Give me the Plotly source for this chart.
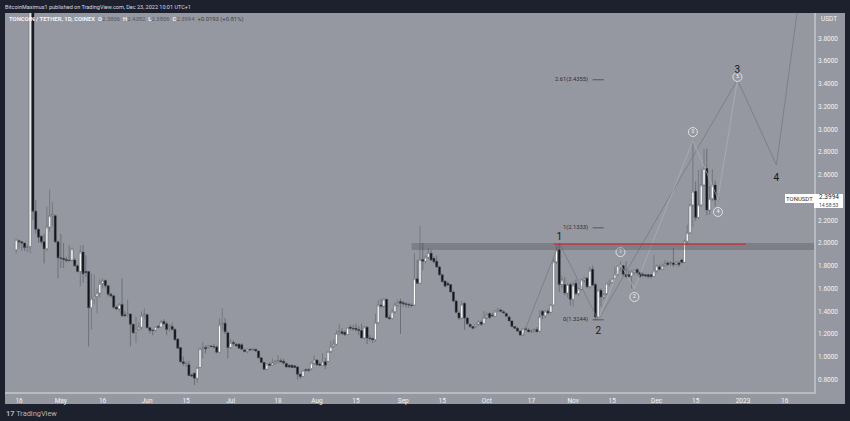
"""TONUSDT daily chart with Elliott wave count, TradingView look."""
import pandas as pd
import plotly.graph_objects as go

opens = [
    1.94, 2.02, 2.01, 2.00, 1.95, 1.97, 4.40, 2.28, 2.12, 2.06,
    2.01, 1.95, 2.14, 2.24, 2.24, 2.01, 1.87, 1.865, 1.855, 1.85,
    1.85, 1.85, 1.80, 1.75, 1.92, 1.75, 1.75, 1.43, 1.51, 1.53,
    1.56, 1.645, 1.67, 1.625, 1.55, 1.535, 1.435, 1.42, 1.46, 1.37,
    1.365, 1.375, 1.285, 1.22, 1.24, 1.26, 1.36, 1.37, 1.255, 1.235,
    1.235, 1.265, 1.26, 1.31, 1.29, 1.26, 1.265, 1.24, 1.155, 1.08,
    0.955, 0.93, 0.93, 0.84, 0.855, 0.81, 0.905, 1.07, 1.08, 1.08,
    1.095, 1.09, 1.085, 1.04, 1.285, 1.295, 1.21, 1.08, 1.125, 1.11,
    1.11, 1.105, 1.06, 1.045, 1.065, 1.06, 1.065, 1.05, 0.99, 0.95,
    0.89, 0.935, 0.925, 0.945, 0.955, 0.965, 0.96, 0.94, 0.925, 0.925,
    0.92, 0.91, 0.845, 0.825, 0.885, 0.885, 0.895, 0.945, 0.97, 0.935,
    0.925, 0.955, 0.96, 1.045, 1.09, 1.11, 1.21, 1.22, 1.215, 1.195,
    1.26, 1.25, 1.25, 1.24, 1.23, 1.165, 1.26, 1.165, 1.16, 1.15,
    1.30, 1.455, 1.445, 1.505, 1.345, 1.335, 1.395, 1.455, 1.485, 1.475,
    1.465, 1.46, 1.455, 1.455, 1.685, 1.645, 1.855, 1.84, 1.875, 1.91,
    1.865, 1.84, 1.79, 1.72, 1.665, 1.645, 1.635, 1.57, 1.49, 1.385,
    1.34, 1.47, 1.34, 1.285, 1.265, 1.27, 1.285, 1.305, 1.29, 1.345,
    1.38, 1.365, 1.355, 1.40, 1.41, 1.395, 1.38, 1.35, 1.315, 1.265,
    1.25, 1.225, 1.19, 1.245, 1.235, 1.22, 1.225, 1.24, 1.225, 1.40,
    1.36, 1.40, 1.39, 1.455, 1.835, 1.94, 1.635, 1.635, 1.56, 1.635,
    1.505, 1.645, 1.555, 1.595, 1.675, 1.69, 1.615, 1.77, 1.635, 1.35,
    1.585, 1.525, 1.555, 1.645, 1.655, 1.69, 1.725, 1.79, 1.80, 1.725,
    1.72, 1.71, 1.74, 1.765, 1.74, 1.725, 1.72, 1.72, 1.72, 1.705,
    1.755, 1.79, 1.77, 1.80, 1.825, 1.82, 1.825, 1.815, 1.825, 1.85,
    1.83, 2.015, 2.09, 2.335, 2.455, 2.225, 2.335, 2.51, 2.655, 2.29,
    2.39, 2.51, 2.3806,
]
highs = [
    2.04, 2.03, 2.02, 2.00, 1.98, 4.60, 5.00, 2.38, 2.13, 2.07,
    2.08, 2.32, 2.47, 2.36, 2.25, 2.02, 2.08, 2.00, 1.88, 1.98,
    1.96, 1.87, 1.81, 1.98, 1.98, 1.89, 1.75, 1.73, 1.72, 1.60,
    1.68, 1.69, 1.68, 1.63, 1.56, 1.54, 1.45, 1.47, 1.69, 1.40,
    1.50, 1.38, 1.29, 1.35, 1.30, 1.40, 1.425, 1.38, 1.26, 1.24,
    1.27, 1.28, 1.32, 1.33, 1.31, 1.28, 1.30, 1.25, 1.16, 1.085,
    1.00, 0.96, 0.965, 0.85, 0.86, 0.91, 1.08, 1.13, 1.10, 1.10,
    1.10, 1.11, 1.10, 1.34, 1.425, 1.34, 1.22, 1.155, 1.145, 1.12,
    1.12, 1.12, 1.07, 1.07, 1.07, 1.075, 1.07, 1.055, 0.995, 0.955,
    0.94, 0.95, 0.985, 0.97, 1.015, 0.985, 0.98, 0.95, 0.93, 0.93,
    0.925, 0.92, 0.85, 0.885, 0.90, 0.90, 0.95, 1.01, 0.98, 0.955,
    1.03, 0.99, 1.05, 1.14, 1.15, 1.23, 1.29, 1.25, 1.23, 1.26,
    1.28, 1.28, 1.29, 1.27, 1.29, 1.27, 1.27, 1.19, 1.17, 1.38,
    1.50, 1.51, 1.515, 1.51, 1.37, 1.42, 1.48, 1.50, 1.51, 1.49,
    1.48, 1.475, 1.47, 1.91, 1.85, 2.15, 2.00, 1.89, 1.955, 1.94,
    1.88, 1.89, 1.80, 1.73, 1.67, 1.66, 1.64, 1.58, 1.50, 1.40,
    1.49, 1.48, 1.35, 1.29, 1.27, 1.29, 1.32, 1.32, 1.40, 1.39,
    1.39, 1.385, 1.41, 1.43, 1.425, 1.41, 1.39, 1.36, 1.32, 1.27,
    1.26, 1.23, 1.25, 1.26, 1.25, 1.24, 1.25, 1.26, 1.41, 1.41,
    1.41, 1.42, 1.46, 1.86, 1.98, 1.985, 1.71, 1.70, 1.65, 1.65,
    1.66, 1.68, 1.61, 1.68, 1.70, 1.70, 1.79, 1.80, 1.65, 1.59,
    1.60, 1.56, 1.65, 1.67, 1.69, 1.79, 1.80, 1.84, 1.81, 1.84,
    1.76, 1.76, 1.77, 1.78, 1.75, 1.74, 1.73, 1.73, 1.73, 1.895,
    1.81, 1.81, 1.82, 1.85, 1.84, 1.84, 1.955, 1.84, 1.84, 1.86,
    2.03, 2.16, 2.34, 2.90, 2.54, 2.64, 2.65, 2.825, 2.83, 2.50,
    2.65, 2.55, 2.4382,
]
lows = [
    1.91, 1.95, 1.93, 1.93, 1.92, 1.91, 2.20, 2.08, 2.00, 1.99,
    1.82, 1.93, 2.10, 2.15, 2.00, 1.69, 1.78, 1.78, 1.83, 1.84,
    1.84, 1.79, 1.74, 1.62, 1.65, 1.70, 1.09, 1.24, 1.46, 1.38,
    1.52, 1.60, 1.60, 1.53, 1.52, 1.42, 1.41, 1.40, 1.35, 1.35,
    1.35, 1.09, 1.20, 1.12, 1.23, 1.24, 1.33, 1.25, 1.205, 1.19,
    1.22, 1.25, 1.255, 1.28, 1.19, 1.22, 1.23, 1.14, 1.07, 0.95,
    0.92, 0.91, 0.83, 0.82, 0.75, 0.77, 0.90, 0.985, 1.03, 1.07,
    1.08, 1.07, 1.03, 1.03, 1.23, 1.20, 0.985, 1.07, 1.10, 1.09,
    1.07, 1.06, 1.04, 1.03, 1.05, 1.05, 1.045, 0.985, 0.945, 0.88,
    0.88, 0.92, 0.92, 0.93, 0.94, 0.95, 0.93, 0.90, 0.90, 0.90,
    0.90, 0.80, 0.805, 0.82, 0.87, 0.865, 0.88, 0.93, 0.92, 0.92,
    0.92, 0.89, 0.95, 1.03, 1.08, 1.10, 1.19, 1.19, 1.18, 1.19,
    1.235, 1.23, 1.22, 1.19, 1.16, 1.15, 1.11, 1.14, 1.12, 1.13,
    1.29, 1.43, 1.43, 1.34, 1.32, 1.33, 1.38, 1.44, 1.20, 1.44,
    1.43, 1.43, 1.44, 1.45, 1.64, 1.64, 1.76, 1.82, 1.86, 1.84,
    1.82, 1.78, 1.71, 1.65, 1.61, 1.62, 1.565, 1.48, 1.38, 1.32,
    1.33, 1.235, 1.28, 1.255, 1.24, 1.25, 1.27, 1.27, 1.285, 1.33,
    1.33, 1.35, 1.35, 1.39, 1.39, 1.38, 1.35, 1.31, 1.26, 1.245,
    1.22, 1.185, 1.185, 1.23, 1.215, 1.21, 1.215, 1.215, 1.22, 1.33,
    1.34, 1.37, 1.38, 1.45, 1.82, 1.57, 1.60, 1.54, 1.52, 1.45,
    1.44, 1.54, 1.53, 1.58, 1.65, 1.60, 1.60, 1.62, 1.32, 1.32,
    1.44, 1.50, 1.54, 1.62, 1.64, 1.68, 1.71, 1.75, 1.71, 1.69,
    1.69, 1.60, 1.72, 1.72, 1.69, 1.70, 1.70, 1.69, 1.69, 1.70,
    1.74, 1.76, 1.76, 1.79, 1.80, 1.80, 1.79, 1.80, 1.79, 1.82,
    1.82, 1.98, 2.08, 2.14, 2.195, 2.21, 2.32, 2.49, 2.245, 2.245,
    2.37, 2.32, 2.3806,
]
closes = [
    2.03, 2.01, 2.00, 1.96, 1.96, 4.40, 2.28, 2.12, 2.05, 2.01,
    1.95, 2.14, 2.24, 2.25, 2.01, 1.87, 1.865, 1.855, 1.845, 1.845,
    1.95, 1.80, 1.75, 1.92, 1.73, 1.74, 1.43, 1.51, 1.53, 1.56,
    1.645, 1.67, 1.625, 1.55, 1.535, 1.435, 1.42, 1.46, 1.36, 1.36,
    1.375, 1.285, 1.21, 1.24, 1.26, 1.36, 1.37, 1.255, 1.23, 1.23,
    1.265, 1.26, 1.305, 1.29, 1.24, 1.27, 1.24, 1.15, 1.075, 0.955,
    0.94, 0.94, 0.835, 0.83, 0.81, 0.905, 1.07, 1.08, 1.07, 1.095,
    1.09, 1.085, 1.04, 1.28, 1.295, 1.22, 1.08, 1.125, 1.115, 1.095,
    1.075, 1.065, 1.045, 1.065, 1.06, 1.065, 1.05, 0.99, 0.95, 0.89,
    0.935, 0.925, 0.945, 0.955, 0.965, 0.955, 0.945, 0.91, 0.91, 0.905,
    0.905, 0.845, 0.825, 0.88, 0.88, 0.88, 0.945, 0.97, 0.93, 0.925,
    0.955, 0.925, 1.045, 1.09, 1.11, 1.205, 1.22, 1.205, 1.195, 1.255,
    1.25, 1.245, 1.24, 1.23, 1.165, 1.26, 1.165, 1.16, 1.15, 1.30,
    1.455, 1.445, 1.505, 1.345, 1.335, 1.395, 1.455, 1.47, 1.47, 1.465,
    1.46, 1.455, 1.45, 1.685, 1.645, 1.855, 1.84, 1.875, 1.915, 1.85,
    1.835, 1.79, 1.72, 1.66, 1.62, 1.63, 1.57, 1.49, 1.39, 1.34,
    1.46, 1.34, 1.29, 1.265, 1.25, 1.285, 1.305, 1.285, 1.345, 1.365,
    1.345, 1.36, 1.40, 1.41, 1.40, 1.385, 1.355, 1.315, 1.265, 1.25,
    1.225, 1.19, 1.245, 1.24, 1.22, 1.225, 1.235, 1.22, 1.35, 1.365,
    1.40, 1.385, 1.455, 1.835, 1.94, 1.635, 1.675, 1.56, 1.635, 1.505,
    1.63, 1.555, 1.595, 1.675, 1.69, 1.615, 1.76, 1.63, 1.35, 1.585,
    1.525, 1.545, 1.645, 1.66, 1.685, 1.725, 1.80, 1.805, 1.725, 1.705,
    1.705, 1.75, 1.76, 1.74, 1.705, 1.715, 1.71, 1.705, 1.705, 1.755,
    1.80, 1.77, 1.80, 1.815, 1.81, 1.825, 1.81, 1.83, 1.81, 1.83,
    2.015, 2.09, 2.335, 2.455, 2.225, 2.335, 2.51, 2.655, 2.29, 2.39,
    2.51, 2.38, 2.3994,
]
dates = pd.date_range("2022-04-15", periods=len(closes), freq="D")

x_tick_dates = [
    "2022-04-16", "2022-05-01", "2022-05-16", "2022-06-01", "2022-06-15",
    "2022-07-01", "2022-07-18", "2022-08-01", "2022-08-15", "2022-09-01",
    "2022-09-15", "2022-10-01", "2022-10-17", "2022-11-01", "2022-11-15",
    "2022-12-01", "2022-12-15", "2023-01-01", "2023-01-16",
]
x_tick_labels = [
    "16", "May", "16", "Jun", "15", "Jul", "18", "Aug", "15", "Sep", "15",
    "Oct", "17", "Nov", "15", "Dec", "15", "2023", "16",
]
y_ticks = [0.8, 1.0, 1.2, 1.4, 1.6, 1.8, 2.0, 2.2, 2.6, 2.8, 3.0, 3.2, 3.4, 3.6, 3.8]

main_wave_dates = ["2022-10-14", "2022-10-27", "2022-11-10", "2022-12-30", "2023-01-13", "2023-01-21"]
main_wave_prices = [1.19, 2.0, 1.3244, 3.4355, 2.686, 4.13]
main_wave_names = ["1", "2", "3", "4"]
main_name_dates = ["2022-10-27", "2022-11-10", "2022-12-30", "2023-01-13"]
main_name_prices = [2.05, 1.22, 3.52, 2.57]

sub_wave_dates = ["2022-11-10", "2022-11-18", "2022-11-23", "2022-12-14", "2022-12-23", "2022-12-30"]
sub_wave_prices = [1.3244, 1.81, 1.6, 2.9, 2.39, 3.4355]
sub_name_dates = ["2022-11-18", "2022-11-23", "2022-12-14", "2022-12-23", "2022-12-30"]
sub_name_prices = [1.92, 1.525, 2.976, 2.273, 3.46]
sub_names = ["1", "2", "3", "4", "5"]

fib_names = ["1(2.1333)", "0(1.3244)", "2.61(3.4355)"]
fib_prices = [2.1333, 1.3244, 3.4355]

BG = "#1c212d"
PANEL = "#9598a1"
SEPARATOR = "#b9bbc1"
AXIS_TEXT = "#f2f3f6"
WIDTH, HEIGHT = 850, 421
LEFT, RIGHT, TOP, BOTTOM = 5, 36, 13, 29
PLOT_W = WIDTH - LEFT - RIGHT
PLOT_H = HEIGHT - TOP - BOTTOM
FONT = "Roboto"


def px_x(x):
    return (x - LEFT) / PLOT_W


def px_y(y):
    return 1 - (y - TOP) / PLOT_H


def label(fig, x, y, text, size=7, color=AXIS_TEXT, anchor="left"):
    fig.add_annotation(
        x=px_x(x), y=px_y(y), xref="paper", yref="paper", text=text, showarrow=False,
        xanchor=anchor, yanchor="middle", font={"size": size, "color": color, "family": FONT},
        borderpad=0,
    )


def box(fig, x0, y0, x1, y1, color, layer="below"):
    fig.add_shape(
        type="rect", xref="paper", yref="paper", x0=px_x(x0), x1=px_x(x1),
        y0=px_y(y0), y1=px_y(y1), fillcolor=color, line_width=0, layer=layer,
    )


fig = go.Figure()
fig.add_trace(go.Candlestick(
    x=dates, open=opens, high=highs, low=lows, close=closes, showlegend=False,
    whiskerwidth=0,
    increasing={"fillcolor": "#ffffff", "line": {"color": "#565861", "width": 0.5}},
    decreasing={"fillcolor": "#0d1017", "line": {"color": "#44464f", "width": 0.5}},
))
fig.add_trace(go.Scatter(
    x=main_wave_dates, y=main_wave_prices, mode="lines", showlegend=False,
    line={"color": "#74767f", "width": 0.7},
))
fig.add_trace(go.Scatter(
    x=sub_wave_dates, y=sub_wave_prices, mode="lines", showlegend=False,
    line={"color": "#afb1b7", "width": 0.7},
))
fig.add_trace(go.Scatter(
    x=sub_name_dates, y=sub_name_prices, mode="markers+text", showlegend=False,
    text=sub_names, textposition="middle center",
    textfont={"size": 5.5, "color": "#f4f4f6", "family": FONT},
    marker={"size": 9, "color": PANEL, "line": {"color": "#e6e7ea", "width": 0.9}},
))
fig.add_trace(go.Scatter(
    x=main_name_dates, y=main_name_prices, mode="text", showlegend=False,
    text=main_wave_names, textposition="middle center",
    textfont={"size": 10, "color": "#14161c", "family": FONT},
))

# fib levels: a short dash with its name to the left
for name, price in zip(fib_names, fib_prices):
    fig.add_shape(
        type="line", x0="2022-11-08", x1="2022-11-12", y0=price, y1=price,
        line={"color": "#555760", "width": 1},
    )
    fig.add_annotation(
        x="2022-11-07", y=price, text=name, showarrow=False, xanchor="right",
        font={"size": 5.8, "color": "#2c2e35", "family": FONT},
    )

# supply zone and breakout line
fig.add_shape(
    type="rect", x0="2022-09-04", x1="2023-01-26 12:00", y0=1.938, y1=2.0,
    fillcolor="rgba(30,30,40,0.2)", line_width=0,
)
fig.add_shape(
    type="line", x0="2022-10-25", x1="2023-01-02", y0=1.99, y1=1.99,
    line={"color": "#c0323a", "width": 1.3},
)

# TradingView frame
box(fig, LEFT, TOP, 845, 404, PANEL)
box(fig, 785, 194, 814, 203, "#ffffff", layer="above")
box(fig, 814, 194, 843, 208, "#ffffff", layer="above")
label(fig, 799.5, 198.5, "TONUSDT", size=6, color="#33353c", anchor="center")
label(fig, 818, 197.5, "2.3994", size=6.5, color="#22242a")
label(fig, 818, 204.5, "14:58:53", size=5, color="#4a4c54")
label(fig, 820, 19, "USDT", size=6.5)
label(fig, 4, 6.5, "BitcoinMaximus1 published on TradingView.com, Dec 23, 2022 10:01 UTC+1", size=5.5, color="#d8dbe2")
label(
    fig, 8, 19,
    "<b>TONCOIN / TETHER, 1D, COINEX</b>  <b>O</b><span style='color:#555760'>2.3806</span>"
    "  <b>H</b><span style='color:#555760'>2.4382</span>  <b>L</b><span style='color:#555760'>2.3806</span>"
    "  <b>C</b><span style='color:#555760'>2.3994</span>  <span style='color:#3f4148'>+0.0193 (+0.81%)</span>",
    size=5.9,
)
label(fig, 5, 413, "<b>17</b> TradingView", size=7.4, color="#b4b7bf")

fig.update_layout(
    width=WIDTH, height=HEIGHT, margin={"l": LEFT, "r": RIGHT, "t": TOP, "b": BOTTOM},
    paper_bgcolor=BG, plot_bgcolor=PANEL, showlegend=False, hovermode=False,
    font={"family": FONT, "color": AXIS_TEXT}, boxgap=0.25, boxgroupgap=0,
)
fig.update_xaxes(
    type="date", range=["2022-04-10 23:00", "2023-01-26 12:00"], rangeslider_visible=False,
    tickmode="array", tickvals=x_tick_dates, ticktext=x_tick_labels, showgrid=False, zeroline=False,
    tickfont={"size": 6.5, "color": AXIS_TEXT, "family": FONT},
    ticks="outside", ticklen=1, tickcolor="rgba(0,0,0,0)",
    showline=True, linecolor=SEPARATOR, linewidth=1.5,
)
# price scale: 3.8 sits at y=38.3 and 0.8 at y=379.4
fig.update_yaxes(
    side="right", range=[2 - (392 - 243) / 113.7, 2 + (243 - 13) / 113.7], autorange=False,
    tickmode="array", tickvals=y_ticks, ticktext=[f"{v:.4f}" for v in y_ticks],
    showgrid=False, zeroline=False,
    tickfont={"size": 6.5, "color": AXIS_TEXT, "family": FONT},
    ticks="outside", ticklen=1, tickcolor="rgba(0,0,0,0)",
    showline=True, linecolor=SEPARATOR, linewidth=1.5,
)

fig.write_html(
    "out.html", config={"displayModeBar": False}, post_script="document.body.style.margin='0';"
)
